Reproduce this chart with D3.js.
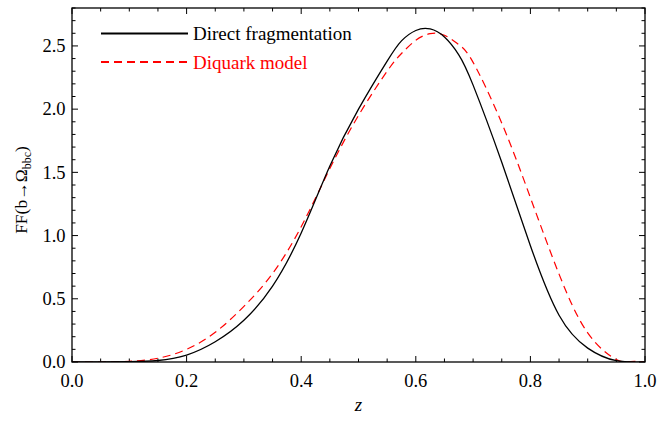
<!DOCTYPE html>
<html>
<head>
<meta charset="utf-8">
<script src="https://cdn.jsdelivr.net/npm/d3@7"></script>
<style>
  body { margin: 0; background: #fff; }
  svg text { font-family: "Times New Roman", Times, "Liberation Serif", serif; }
</style>
</head>
<body>
<div id="chart"></div>
<script>
// values
const zValues = [0, 0.05, 0.1, 0.15, 0.2, 0.25, 0.3, 0.35, 0.4, 0.45, 0.5, 0.55, 0.575, 0.6, 0.625, 0.65, 0.675, 0.7, 0.75, 0.8, 0.85, 0.9, 0.95, 1.0];
const directFF = [0, 0, 0.002, 0.012, 0.055, 0.16, 0.33, 0.6, 1.02, 1.55, 2.0, 2.38, 2.54, 2.622, 2.634, 2.57, 2.43, 2.19, 1.58, 0.92, 0.37, 0.11, 0.01, 0];

const zDiquark = [0, 0.05, 0.1, 0.15, 0.2, 0.25, 0.3, 0.35, 0.4, 0.45, 0.5, 0.55, 0.575, 0.6, 0.625, 0.65, 0.675, 0.7, 0.75, 0.8, 0.85, 0.9, 0.95, 0.975, 1.0];
const diquarkFF = [0, 0, 0.005, 0.03, 0.1, 0.235, 0.44, 0.7, 1.07, 1.53, 1.95, 2.30, 2.44, 2.545, 2.597, 2.585, 2.51, 2.37, 1.89, 1.30, 0.695, 0.23, 0.02, 0.003, 0];

const xTicks = [0, 0.2, 0.4, 0.6, 0.8, 1.0];
const yTicks = [0, 0.5, 1.0, 1.5, 2.0, 2.5];

const legendItems = [
    {label: "Direct fragmentation", color: "#000", dash: null},
    {label: "Diquark model", color: "#ff0000", dash: "8,5"}
];

const margin = {top: 8, right: 14, bottom: 61, left: 72};
const width = 659 - margin.left - margin.right;
const height = 423 - margin.top - margin.bottom;

const root = d3.select("#chart").append("svg")
    .attr("width", 659)
    .attr("height", 423);

root.append("defs").append("clipPath")
    .attr("id", "plot-clip")
    .append("rect")
    .attr("width", width)
    .attr("height", height);

const svg = root.append("g")
    .attr("transform", `translate(${margin.left},${margin.top})`);

const x = d3.scaleLinear().domain([0, 1]).range([0, width]);
const y = d3.scaleLinear().domain([0, 2.8]).range([height, 0]);

// minor/major tick marks, pointing inwards on all four sides
const xMinor = d3.range(0, 1.0001, 0.05);
const yMinor = d3.range(0, 2.8001, 0.1);
const isMajor = (v, step) => Math.abs(v / step - Math.round(v / step)) < 1e-6;

const tickG = svg.append("g").attr("stroke", "#000").attr("stroke-width", 1);
xMinor.forEach(v => {
    const len = isMajor(v, 0.2) ? 6 : 3.5;
    tickG.append("line").attr("x1", x(v)).attr("x2", x(v)).attr("y1", height).attr("y2", height - len);
    tickG.append("line").attr("x1", x(v)).attr("x2", x(v)).attr("y1", 0).attr("y2", len);
});
yMinor.forEach(v => {
    const len = isMajor(v, 0.5) ? 6 : 3.5;
    tickG.append("line").attr("x1", 0).attr("x2", len).attr("y1", y(v)).attr("y2", y(v));
    tickG.append("line").attr("x1", width).attr("x2", width - len).attr("y1", y(v)).attr("y2", y(v));
});

// tick labels
svg.append("g").selectAll("text")
    .data(xTicks)
    .join("text")
    .attr("x", d => x(d))
    .attr("y", height + 24.5)
    .attr("text-anchor", "middle")
    .attr("font-size", 18.5)
    .text(d => d.toFixed(1));

svg.append("g").selectAll("text")
    .data(yTicks)
    .join("text")
    .attr("x", -6.5)
    .attr("y", d => y(d))
    .attr("dy", "0.34em")
    .attr("text-anchor", "end")
    .attr("font-size", 18.5)
    .text(d => d.toFixed(1));

// axis titles
svg.append("text")
    .attr("x", width / 2)
    .attr("y", height + 49)
    .attr("text-anchor", "middle")
    .attr("font-size", 19)
    .attr("font-style", "italic")
    .text("z");

const yLab = svg.append("text")
    .attr("transform", `translate(-45,${height / 2 + 5})rotate(-90)`)
    .attr("text-anchor", "middle")
    .attr("font-size", 17.5);
yLab.append("tspan").text("FF(b→Ω");
yLab.append("tspan").attr("font-size", 12).attr("dy", 4).text("bbc");
yLab.append("tspan").attr("dy", -4).text(")");

// curves - natural spline for a smooth look
const line = d3.line()
    .curve(d3.curveNatural)
    .x(d => x(d[0]))
    .y(d => y(d[1]));

const plot = svg.append("g").attr("clip-path", "url(#plot-clip)");

plot.append("path")
    .datum(zDiquark.map((z, i) => [z, diquarkFF[i]]))
    .attr("fill", "none")
    .attr("stroke", "#ff0000")
    .attr("stroke-width", 1.2)
    .attr("stroke-dasharray", "8,5")
    .attr("d", line);

plot.append("path")
    .datum(zValues.map((z, i) => [z, directFF[i]]))
    .attr("fill", "none")
    .attr("stroke", "#000")
    .attr("stroke-width", 1.3)
    .attr("d", line);

// frame
svg.append("rect")
    .attr("width", width)
    .attr("height", height)
    .attr("fill", "none")
    .attr("stroke", "#000")
    .attr("stroke-width", 1.3);

// legend
const legend = svg.append("g").attr("transform", "translate(29,25.5)");
legendItems.forEach((d, i) => {
    const g = legend.append("g").attr("transform", `translate(0,${i * 28.5})`);
    g.append("line")
        .attr("x1", 0).attr("x2", 87)
        .attr("stroke", d.color)
        .attr("stroke-width", 1.8)
        .attr("stroke-dasharray", d.dash);
    g.append("text")
        .attr("x", 92)
        .attr("dy", "0.35em")
        .attr("font-size", 19)
        .attr("fill", d.color)
        .text(d.label);
});
</script>
</body>
</html>
